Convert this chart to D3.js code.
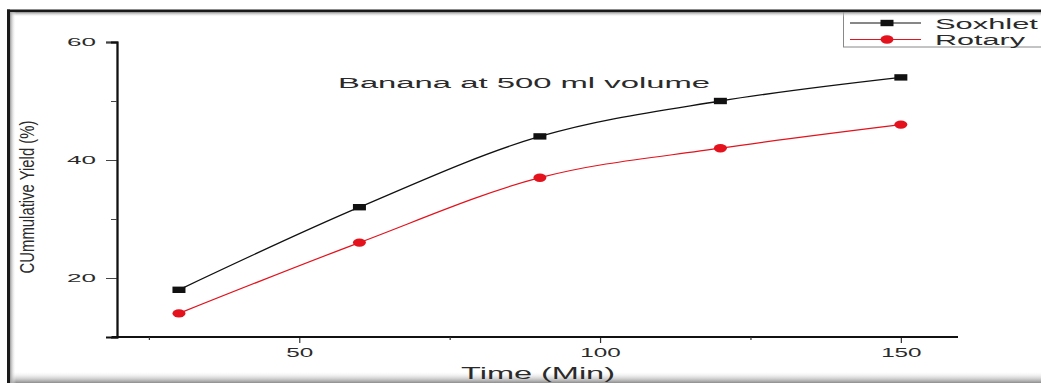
<!DOCTYPE html>
<html>
<head>
<meta charset="utf-8">
<script src="https://cdn.jsdelivr.net/npm/d3@7"></script>
<style>
  html, body { margin: 0; padding: 0; background: #fff; }
  svg { display: block; }
  text { font-family: "Liberation Sans", Arial, sans-serif; fill: #2a2a2a; }
</style>
</head>
<body>
<svg id="chart" width="1041" height="383"></svg>
<script>
// Cumulative extraction yield over time, two extraction methods
const times = [30, 60, 90, 120, 150];
const soxhlet = [18, 32, 44, 50, 54];
const rotary = [14, 26, 37, 42, 46];
const seriesNames = ["Soxhlet", "Rotary"];
const xTicks = [50, 100, 150];
const xMinorTicks = [25, 75, 125];
const yTicks = [20, 40, 60];
const yMinorTicks = [30, 50];
const titleText = "Banana at 500 ml volume";
const xLabel = "Time (Min)";
const yLabel = "CUmmulative Yield (%)";

const W = 1041, H = 383;
const svg = d3.select("#chart");

const defs = svg.append("defs");
const gLeft = defs.append("linearGradient").attr("id", "shadeLeft").attr("x1", 0).attr("x2", 1).attr("y1", 0).attr("y2", 0);
gLeft.append("stop").attr("offset", "0%").attr("stop-color", "#9a9a9a");
gLeft.append("stop").attr("offset", "100%").attr("stop-color", "#fff").attr("stop-opacity", 0);
const gTop = defs.append("linearGradient").attr("id", "shadeTop").attr("x1", 0).attr("x2", 0).attr("y1", 0).attr("y2", 1);
gTop.append("stop").attr("offset", "0%").attr("stop-color", "#8a8a8a");
gTop.append("stop").attr("offset", "100%").attr("stop-color", "#fff").attr("stop-opacity", 0);
const gBottom = defs.append("linearGradient").attr("id", "shadeBottom").attr("x1", 0).attr("x2", 0).attr("y1", 0).attr("y2", 1);
gBottom.append("stop").attr("offset", "0%").attr("stop-color", "#fff").attr("stop-opacity", 0);
gBottom.append("stop").attr("offset", "100%").attr("stop-color", "#8c8c8c");

// Scales
const x = d3.scaleLinear().domain([19.7, 159.5]).range([117, 958]);
const y = d3.scaleLinear().domain([10, 60]).range([337, 42]);

// Widen a text element about its anchor so that it spans the given width
function widenTo(sel, width) {
  sel.each(function () {
    const t = d3.select(this);
    const natural = this.getComputedTextLength();
    const k = width / natural;
    const x0 = +t.attr("x") || 0;
    t.attr("x", x0 / k).attr("transform", `${t.attr("transform") || ""} scale(${k},1)`);
  });
}

// Window shading at the bottom edge (drawn under the axis title)
svg.append("rect").attr("x", 7).attr("y", 371).attr("width", W - 7).attr("height", 12).attr("fill", "url(#shadeBottom)");

// Axes
const axisColor = "#111";
const gx = svg.append("g").attr("transform", `translate(0,${y(10)})`);
gx.call(d3.axisBottom(x).tickValues(xTicks).tickSize(6).tickPadding(5).tickFormat(d3.format("d")));
gx.append("g").call(d3.axisBottom(x).tickValues(xMinorTicks).tickSize(3).tickFormat(""));
gx.selectAll(".domain").attr("stroke", axisColor).attr("stroke-width", 1.8).attr("d", `M112,0H958`);
gx.selectAll(".tick line").attr("stroke", "#333").attr("stroke-width", 1.2);
gx.selectAll("g.tick text").attr("font-size", 12).attr("fill", "#333")
  .attr("font-family", "Liberation Sans, Arial, sans-serif")
  .each(function (d) { d3.select(this).call(widenTo, String(d).length * 13.5); });

const gy = svg.append("g").attr("transform", `translate(${x(19.7)},0)`);
gy.call(d3.axisLeft(y).tickValues(yTicks).tickSize(11).tickPadding(10).tickFormat(d3.format("d")));
gy.append("g").call(d3.axisLeft(y).tickValues(yMinorTicks).tickSize(6).tickFormat(""));
gy.selectAll(".domain").attr("stroke", axisColor).attr("stroke-width", 1.8);
gy.selectAll(".tick line").attr("stroke", "#444").attr("stroke-width", 1);
gy.selectAll("g.tick text").attr("font-size", 11).attr("fill", "#333")
  .attr("font-family", "Liberation Sans, Arial, sans-serif").call(widenTo, 29);

// Series
const series = [
  { name: seriesNames[0], values: soxhlet, color: "#111", marker: "square" },
  { name: seriesNames[1], values: rotary, color: "#e3121c", marker: "circle" }
];
const line = d3.line().x(d => x(d[0])).y(d => y(d[1])).curve(d3.curveMonotoneX);

function drawMarker(g, s, cx, cy) {
  if (s.marker === "square") {
    g.append("rect").attr("x", cx - 6.5).attr("y", cy - 3.2).attr("width", 13).attr("height", 6.4).attr("fill", s.color);
  } else {
    g.append("ellipse").attr("cx", cx).attr("cy", cy).attr("rx", 6.5).attr("ry", 4.2).attr("fill", s.color);
  }
}

series.forEach(s => {
  const pts = times.map((t, i) => [t, s.values[i]]);
  svg.append("path").datum(pts).attr("d", line).attr("fill", "none")
    .attr("stroke", s.color).attr("stroke-width", s.marker === "square" ? 1.3 : 1.2);
  const gm = svg.append("g");
  pts.forEach(p => drawMarker(gm, s, x(p[0]), y(p[1])));
});

// Title inside plot
svg.append("text").attr("transform", "translate(524,88)").attr("text-anchor", "middle")
  .attr("font-size", 14.5).attr("fill", "#333").text(titleText).call(widenTo, 372);

// Axis titles
svg.append("text").attr("transform", "translate(538,379)").attr("text-anchor", "middle")
  .attr("font-size", 16).attr("fill", "#333").text(xLabel).call(widenTo, 154);
const yl = svg.append("text").attr("text-anchor", "middle").attr("font-size", 14).attr("fill", "#333").text(yLabel);
{
  const natural = yl.node().getComputedTextLength();
  yl.attr("transform", `translate(34,197) rotate(-90) scale(${153 / natural},1.45)`);
}

// Legend
const lg = svg.append("g");
lg.append("rect").attr("x", 843.5).attr("y", 11.5).attr("width", 210).attr("height", 35.5)
  .attr("fill", "#fff").attr("stroke", "#888").attr("stroke-width", 1);
const legendWidths = [103, 90];
series.forEach((s, i) => {
  const ly = 23 + i * 16.5;
  lg.append("line").attr("x1", 850).attr("x2", 921).attr("y1", ly).attr("y2", ly)
    .attr("stroke", s.color).attr("stroke-width", 1.2);
  drawMarker(lg, s, 887, ly);
  lg.append("text").attr("transform", `translate(935,${ly + 5.5})`).attr("font-size", 15).attr("fill", "#333")
    .text(s.name).call(widenTo, legendWidths[i]);
});

// Window frame: dark top and left edges with soft inner shading
svg.append("rect").attr("x", 10).attr("y", 12).attr("width", W - 10).attr("height", 5).attr("fill", "url(#shadeTop)");
svg.append("rect").attr("x", 10).attr("y", 12).attr("width", 6).attr("height", H - 12).attr("fill", "url(#shadeLeft)");
svg.append("rect").attr("x", 7).attr("y", 9.5).attr("width", W - 7).attr("height", 2.5).attr("fill", "#1a1a1a");
svg.append("rect").attr("x", 7).attr("y", 9.5).attr("width", 3).attr("height", H - 9.5).attr("fill", "#1a1a1a");
</script>
</body>
</html>
